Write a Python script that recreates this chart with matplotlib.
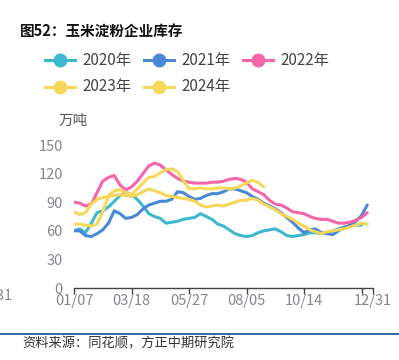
import matplotlib
matplotlib.use("Agg")
import matplotlib.pyplot as plt
from matplotlib.lines import Line2D

plt.rcParams['font.family'] = ['Noto Sans CJK SC', 'DejaVu Sans']

# weekly stock, 万吨 (index 0 = 01/07)
s2020 = [60, 62, 58, 68, 79, 81, 85, 91, 97, 100,
         98, 93, 86, 78, 75, 73, 68, 69, 70, 72,
         73, 74, 78, 75, 72, 67, 65, 61, 57, 55,
         54, 55, 58, 60, 61, 62, 59, 55, 54, 55,
         56, 58, 58, 57, 58, 60, 62, 64, 65, 66,
         66]
s2021 = [60, 60, 55, 54, 57, 61, 68, 81, 78, 73,
         74, 77, 83, 87, 89, 91, 91, 93, 101, 100,
         96, 93, 94, 97, 99, 99, 101, 104, 104, 102,
         100, 96, 93, 89, 86, 83, 79, 74, 69, 63,
         58, 61, 62, 58, 57, 56, 60, 63, 66, 70,
         76, 87]
s2022 = [90, 89, 86, 88, 100, 112, 116, 118, 108, 103,
         106, 112, 120, 128, 131, 129, 124, 119, 115, 112,
         111, 110, 110, 110, 111, 111, 112, 114, 115, 114,
         111, 104, 101, 98, 92, 88, 87, 84, 80, 79,
         78, 75, 73, 72, 72, 70, 68, 68, 69, 71,
         74, 79]
s2023 = [80, 77, 79, 88, 93, 95, 96, 97, 98, 97,
         96, 98, 101, 104, 102, 100, 97, 96, 95, 94,
         93, 91, 87, 85, 86, 87, 86, 88, 90, 92,
         92, 94, 92, 88, 85, 82, 78, 75, 72, 68,
         65, 61, 59, 57, 59, 60, 61, 62, 64, 66,
         68, 67]
s2024 = [67, 67, 66, 65, 67, 80, 97, 102, 103, 100,
         98, 104, 110, 116, 117, 121, 124, 125, 122, 113,
         104, 104, 105, 104, 104, 105, 105, 104, 105, 107,
         110, 113, 111, 106]

names = ['2020年', '2021年', '2022年', '2023年', '2024年']
colors = ['#3db8cf', '#4a88d6', '#f565a8', '#f5d658', '#f5d95c']
series = [s2020, s2021, s2022, s2023, s2024]

tick_pos = [0, 10, 20, 30, 40, 50, 52]
tick_lab = ['01/07', '03/18', '05/27', '08/05', '10/14', '', '12/31']

W, H = 399, 360
fig = plt.figure(figsize=(W / 100, H / 100), dpi=100)
ax = fig.add_axes([74 / W, 1 - 288 / H, 299 / W, 143 / H])

for s, c in zip(series, colors):
    ax.plot(range(len(s)), s, color=c, lw=2.2, solid_capstyle='round',
            solid_joinstyle='round')

ax.set_xlim(0, 52)
ax.set_ylim(0, 150)
ax.set_yticks([0, 30, 60, 90, 120, 150])
ax.set_xticks(tick_pos)
ax.set_xticklabels(tick_lab)
for sp in ['top', 'right', 'left']:
    ax.spines[sp].set_visible(False)
ax.spines['bottom'].set_color('#444444')
ax.spines['bottom'].set_linewidth(1.0)
ax.tick_params(axis='y', length=0, pad=8, labelsize=10.5, labelcolor='#86868c')
ax.tick_params(axis='x', length=4, width=1.0, color='#444444', pad=0,
               labelsize=10.5, labelcolor='#86868c')

# clipped label at the far left edge (spills in from a neighbouring chart)
fig.text(13 / W, 1 - 296 / H, '12/31', ha='right', va='center',
         fontsize=10.5, color='#86868c')

fig.text(59 / W, 1 - 121 / H, '万吨', ha='left', va='center',
         fontsize=10.5, color='#555555')

fig.text(20 / W, 1 - 32 / H, '图52：玉米淀粉企业库存', ha='left', va='center',
         fontsize=10.5, fontweight='bold', color='#111111')

# legend drawn by hand
leg_x = [45, 144, 243]
leg_y = [60, 87]
for i, (n, c) in enumerate(zip(names, colors)):
    x0 = leg_x[i % 3]
    y0 = leg_y[i // 3]
    fy = 1 - y0 / H
    fig.add_artist(Line2D([x0 / W, (x0 + 30) / W], [fy, fy], color=c, lw=2.2,
                          marker=None, transform=fig.transFigure))
    fig.add_artist(Line2D([(x0 + 15) / W], [fy], color=c, marker='o', ms=9,
                          lw=0, transform=fig.transFigure))
    fig.text((x0 + 37) / W, fy, n, ha='left', va='center', fontsize=11,
             color='#444444')

fig.add_artist(Line2D([0, 1], [1 - 334 / H, 1 - 334 / H], color='#1f5c99',
                      lw=1.3, transform=fig.transFigure))
fig.text(22 / W, 1 - 344 / H, '资料来源：同花顺，方正中期研究院', ha='left',
         va='center', fontsize=9.5, color='#333333')

fig.savefig('out.png', dpi=100)
